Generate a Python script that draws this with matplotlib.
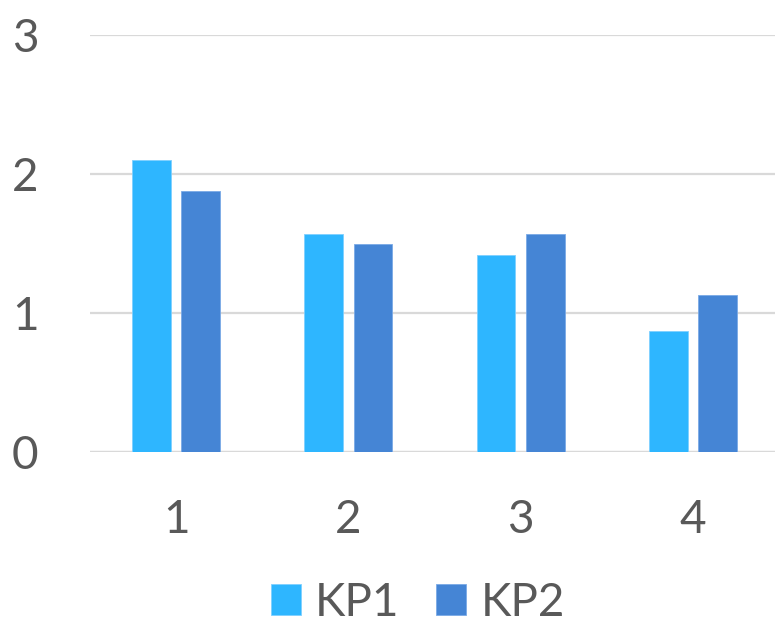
import numpy as np
import matplotlib
matplotlib.use("Agg")
import matplotlib.pyplot as plt

# chart data
categories = ["1", "2", "3", "4"]
kp1 = [2.1, 1.57, 1.42, 0.87]
kp2 = [1.88, 1.5, 1.57, 1.13]
series_names = ["KP1", "KP2"]

C_KP1 = "#2EB6FF"
C_KP2 = "#4585D5"
TEXT = "#595959"
GRID = "#D9D9D9"

plt.rcParams["font.family"] = ["Lato", "DejaVu Sans"]

fig = plt.figure(figsize=(7.75, 6.23), dpi=100)
ax = fig.add_axes([90 / 775, 1 - 452 / 623, 689 / 775, 417 / 623])

x = np.arange(len(categories))
w = 0.226
off = 0.143
ax.bar(x - off, kp1, width=w, color=C_KP1, edgecolor="#7FD0FF", linewidth=0.6, label=series_names[0], zorder=3)
ax.bar(x + off, kp2, width=w, color=C_KP2, edgecolor="#7AAAE6", linewidth=0.6, label=series_names[1], zorder=3)

ax.set_xlim(-0.5, 3.5)
ax.set_ylim(0, 3)
ax.set_yticks([0, 1, 2, 3])
ax.set_xticks(x)
ax.set_xticklabels(categories)

ax.yaxis.grid(True, color=GRID, linewidth=1.6, zorder=0)
ax.set_axisbelow(True)
for s in ["top", "right", "left", "bottom"]:
    ax.spines[s].set_visible(False)
ax.axhline(0, color=GRID, linewidth=1.6, zorder=1)

ax.tick_params(axis="both", length=0, labelsize=33, labelcolor=TEXT)
ax.tick_params(axis="x", pad=34)
ax.tick_params(axis="y", pad=37)

fig.legend(loc="lower center", bbox_to_anchor=(418 / 775, -0.038), ncol=2, frameon=False,
           fontsize=33, labelcolor=TEXT, handlelength=0.64, handleheight=0.64,
           handletextpad=0.32, columnspacing=0.8, borderpad=0)

fig.savefig("out.png", dpi=100)
